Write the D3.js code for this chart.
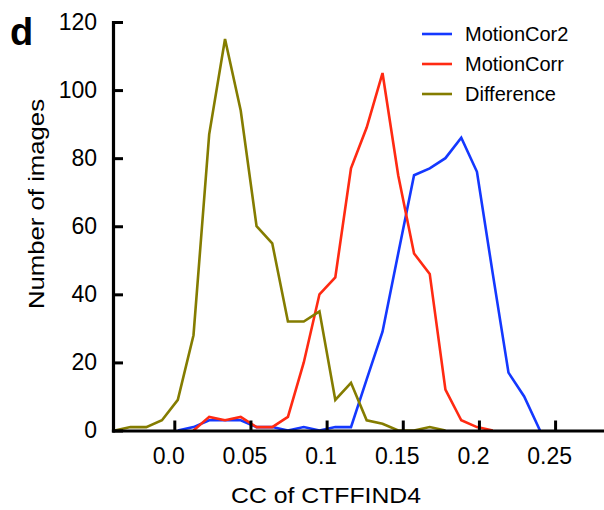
<!DOCTYPE html>
<html>
<head>
<meta charset="utf-8">
<script src="https://cdn.jsdelivr.net/npm/d3@7"></script>
<style>
  html, body { margin: 0; padding: 0; background: #fff; }
  svg { display: block; }
  text { font-family: "Liberation Sans", Arial, sans-serif; fill: #000; }
</style>
</head>
<body>
<svg id="chart" width="604" height="510"></svg>
<script>
// Histogram bin centres (CC of CTFFIND4)
const binCenters = [-0.0391, -0.0288, -0.0184, -0.0081, 0.0023, 0.0126, 0.0229, 0.0333,
  0.0436, 0.0540, 0.0643, 0.0746, 0.0850, 0.0953, 0.1057, 0.1160, 0.1263, 0.1367,
  0.1470, 0.1574, 0.1677, 0.1780, 0.1884, 0.1987, 0.2091, 0.2194, 0.2297, 0.2401, 0.2504];

// Number of images per bin (null = not drawn)
const motionCor2 = [null, null, null, null, 0, 1, 3, 3, 3, 1, 1, 0, 1, 0, 1, 1, 15, 29,
  52, 75, 77, 80, 86, 76, 46, 17, 10, 0, null];
const motionCorr = [null, null, null, null, null, 0, 4, 3, 4, 1, 1, 4, 20, 40, 45, 77, 89, 105,
  75, 52, 46, 12, 3, 1, 0, null, null, null, null];
const difference = [0, 1, 1, 3, 9, 28, 87, 115, 94, 60, 55, 32, 32, 35, 9, 14, 3, 2,
  0, 0, 1, 0, null, null, null, null, null, null, null];

const seriesNames = ["MotionCor2", "MotionCorr", "Difference"];
const seriesColors = ["#1438ff", "#ff2a12", "#847c00"];
const seriesValues = [motionCor2, motionCorr, difference];

const xTicks = [0, 0.05, 0.1, 0.15, 0.2, 0.25];
const xTickLabels = ["0.0", "0.05", "0.1", "0.15", "0.2", "0.25"];
const yTicks = [0, 20, 40, 60, 80, 100, 120];

const svg = d3.select("#chart");

const x = d3.scaleLinear().domain([-0.04025, 0.2808]).range([113, 602]);
const y = d3.scaleLinear().domain([0, 120]).range([430.5, 22]);

// Series lines
const line = d3.line()
  .defined(d => d.v !== null)
  .x(d => x(d.x))
  .y(d => y(d.v));

seriesValues.forEach((vals, k) => {
  const pts = binCenters.map((c, i) => ({ x: c, v: vals[i] }));
  svg.append("path")
    .datum(pts)
    .attr("fill", "none")
    .attr("stroke", seriesColors[k])
    .attr("stroke-width", 2.6)
    .attr("stroke-linejoin", "miter")
    .attr("d", line);
});

// Axes (drawn over the lines)
const xAxis = d3.axisBottom(x)
  .tickValues(xTicks)
  .tickFormat((d, i) => xTickLabels[i])
  .tickSize(-10)
  .tickSizeOuter(0)
  .tickPadding(17);

const gx = svg.append("g")
  .attr("transform", `translate(0,${y(0)})`)
  .call(xAxis);

const yAxis = d3.axisLeft(y)
  .tickValues(yTicks)
  .tickSize(-10)
  .tickSizeOuter(0)
  .tickPadding(16);

const gy = svg.append("g")
  .attr("transform", `translate(${x.range()[0]},0)`)
  .call(yAxis);

[gx, gy].forEach(g => {
  g.select(".domain").attr("stroke", "#000").attr("stroke-width", 3.2).attr("stroke-linecap", "square");
  g.selectAll(".tick line").attr("stroke", "#000").attr("stroke-width", 3);
  g.selectAll(".tick text").attr("font-size", 23).attr("font-family", "\"Liberation Sans\", Arial, sans-serif").attr("fill", "#000");
});
gx.selectAll(".tick text").attr("dx", -6);

// Axis titles
svg.append("text")
  .attr("x", 326)
  .attr("y", 503)
  .attr("text-anchor", "middle")
  .attr("font-size", 22)
  .attr("textLength", 190)
  .attr("lengthAdjust", "spacingAndGlyphs")
  .text("CC of CTFFIND4");

svg.append("text")
  .attr("transform", "translate(44,204) rotate(-90)")
  .attr("text-anchor", "middle")
  .attr("font-size", 22)
  .attr("textLength", 210)
  .attr("lengthAdjust", "spacingAndGlyphs")
  .text("Number of images");

// Panel letter
svg.append("text")
  .attr("x", 10)
  .attr("y", 45)
  .attr("font-size", 38)
  .attr("font-weight", "bold")
  .text("d");

// Legend
const legend = svg.append("g");
seriesNames.forEach((name, k) => {
  const ly = 34 + k * 30;
  legend.append("line")
    .attr("x1", 422).attr("x2", 452)
    .attr("y1", ly).attr("y2", ly)
    .attr("stroke", seriesColors[k])
    .attr("stroke-width", 2.6);
  legend.append("text")
    .attr("x", 465)
    .attr("y", ly + 7)
    .attr("font-size", 20)
    .text(name);
});
</script>
</body>
</html>
